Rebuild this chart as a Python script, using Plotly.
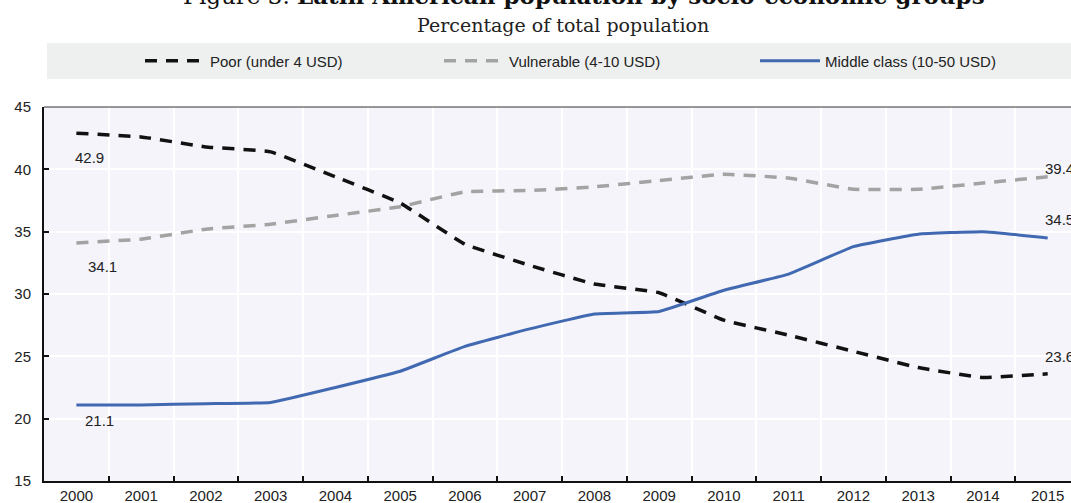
import plotly.graph_objects as go

years = [str(y) for y in range(2000, 2016)]
poor = [42.9, 42.6, 41.8, 41.4, 39.4, 37.3, 34.0, 32.3, 30.8, 30.1, 27.9, 26.7, 25.4, 24.1, 23.3, 23.6]
vulnerable = [34.1, 34.4, 35.2, 35.6, 36.3, 37.0, 38.2, 38.3, 38.6, 39.1, 39.6, 39.3, 38.4, 38.4, 38.9, 39.4]
middle = [21.1, 21.1, 21.2, 21.3, 22.5, 23.8, 25.8, 27.2, 28.4, 28.6, 30.3, 31.6, 33.8, 34.8, 35.0, 34.5]

names = ["Poor (under 4 USD)", "Vulnerable (4-10 USD)", "Middle class (10-50 USD)"]
title_text = "Figure 3. <b>Latin American population by socio-economic groups</b>"
subtitle_text = "Percentage of total population"

W, H = 1071, 503
ML, MT, MB = 44, 107, 22
plot_h = H - MT - MB
plot_w = W - ML

def py(pix):
    return (H - MB - pix) / plot_h

def px(pix):
    return (pix - ML) / plot_w

sans = "Liberation Sans, Arial, sans-serif"
serif = "DejaVu Serif, Liberation Serif, serif"

fig = go.Figure()
styles = [
    dict(color="#111111", width=3.5, dash="12px,9px"),
    dict(color="#a3a3a3", width=3.5, dash="12px,9px"),
    dict(color="#4169b1", width=3),
]
legend_ids = ["legend", "legend2", "legend3"]
for name, vals, st, lg in zip(names, [poor, vulnerable, middle], styles, legend_ids):
    fig.add_trace(go.Scatter(x=years, y=vals, mode="lines", name=name, legend=lg,
                             line=dict(shape="spline", smoothing=0.3, **st),
                             hoverinfo="skip"))

ann_font = dict(family=sans, size=15, color="#222222")
first, last = 0, len(years) - 1
starts = [(poor, -24, 0), (vulnerable, -24, 13), (middle, -16, 10)]
for vals, ys, xs in starts:
    fig.add_annotation(x=first, y=vals[first], text=f"{vals[first]:.1f}", showarrow=False,
                       xanchor="left", yanchor="middle", xshift=xs - 3, yshift=ys, font=ann_font)
ends = [(poor, 17), (vulnerable, 8), (middle, 18)]
for vals, ys in ends:
    fig.add_annotation(x=last, y=vals[last], text=f"{vals[last]:.1f}", showarrow=False,
                       xanchor="left", yanchor="middle", xshift=-5, yshift=ys, font=ann_font)

fig.add_annotation(x=px(584), y=py(-4), xref="paper", yref="paper", text=title_text,
                   showarrow=False, xanchor="center", yanchor="middle",
                   font=dict(family=serif, size=23, color="#111111"))
fig.add_annotation(x=px(563), y=py(25), xref="paper", yref="paper", text=subtitle_text,
                   showarrow=False, xanchor="center", yanchor="middle",
                   font=dict(family=serif, size=19, color="#222222"))

# legend band
fig.add_shape(type="rect", xref="paper", yref="paper", x0=px(47), x1=px(1100),
              y0=py(79), y1=py(43), fillcolor="#eef0f0", line=dict(width=0), layer="below")
# top border of plot
fig.add_shape(type="line", xref="paper", yref="paper", x0=0, x1=1, y0=1, y1=1,
              line=dict(color="#333333", width=1))

leg_common = dict(orientation="h", y=py(61), xanchor="left", yanchor="middle",
                  bgcolor="rgba(0,0,0,0)", itemwidth=60,
                  font=dict(family=sans, size=15, color="#222222"))

fig.update_layout(
    width=W, height=H,
    margin=dict(l=ML, r=0, t=MT, b=MB),
    paper_bgcolor="white",
    plot_bgcolor="#f4f4fa",
    showlegend=True,
    legend=dict(x=px(140), **leg_common),
    legend2=dict(x=px(439), **leg_common),
    legend3=dict(x=px(755), **leg_common),
    xaxis=dict(type="category", range=[-0.5, 15.36], tickson="boundaries",
               ticks="inside", ticklen=5, tickwidth=1.5, tickcolor="#111111",
               showgrid=True, gridcolor="white", gridwidth=1.5,
               showline=True, linecolor="#111111", linewidth=2,
               tickfont=dict(family=sans, size=15, color="#222222"), zeroline=False),
    yaxis=dict(range=[15, 45], dtick=5, tick0=15, ticks="inside", ticklen=5,
               tickwidth=1.5, tickcolor="#111111",
               showgrid=True, gridcolor="white", gridwidth=1.5,
               showline=True, linecolor="#111111", linewidth=2, zeroline=False,
               ticklabelstandoff=8,
               tickfont=dict(family=sans, size=15, color="#222222")),
)

fig.write_html("out.html", config={"displayModeBar": False},
               post_script="document.body.style.margin='0px';")
